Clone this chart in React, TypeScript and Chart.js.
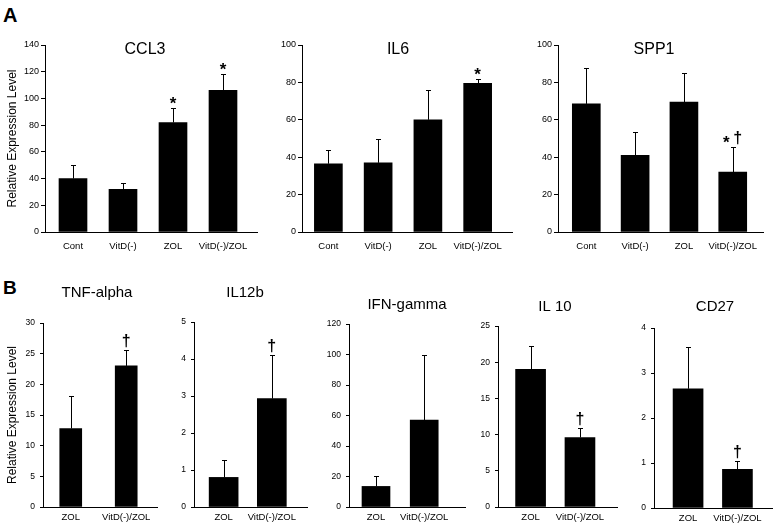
import React, { useEffect, useRef } from 'react';
import { Chart, registerables } from 'chart.js';

Chart.register(...registerables);

const FONT = '"Liberation Sans", Arial, sans-serif';

// ---------- data ----------
const categoriesA = ['Cont', 'VitD(-)', 'ZOL', 'VitD(-)/ZOL'];
const categoriesB = ['ZOL', 'VitD(-)/ZOL'];

const ccl3Means = [40, 32, 82, 106];
const ccl3Errors = [10, 5, 11, 12];
const ccl3Marks = ['', '', '*', '*'];

const il6Means = [36.5, 37, 60, 79.5];
const il6Errors = [7.5, 12.5, 16, 2.5];
const il6Marks = ['', '', '', '*'];

const spp1Means = [68.5, 41, 69.5, 32];
const spp1Errors = [19, 12.5, 15.5, 13.5];
const spp1Marks = ['', '', '', '*†'];

const tnfMeans = [12.8, 23];
const tnfErrors = [5.3, 2.6];
const tnfMarks = ['', '†'];

const il12bMeans = [0.8, 2.93];
const il12bErrors = [0.48, 1.17];
const il12bMarks = ['', '†'];

const ifnMeans = [13.5, 57];
const ifnErrors = [7, 43];
const ifnMarks = ['', ''];

const il10Means = [19, 9.6];
const il10Errors = [3.2, 1.3];
const il10Marks = ['', '†'];

const cd27Means = [2.65, 0.86];
const cd27Errors = [0.93, 0.19];
const cd27Marks = ['', '†'];

const yTitle = 'Relative Expression Level';

type Spec = {
  title: string;
  cats: string[];
  means: number[];
  errs: number[];
  marks: string[];
  yMax: number;
  yStep: number;
  yTitle?: string;
  left: number;
  right: number;
  top: number;
  bottom: number;
  xMin: number;
  xMax: number;
  bar: number;
  titleX: number;
  titleY: number;
  canvasLeft: number;
  padTop: number;
  xh: number;
  yFont: number;
  xFont: number;
  xPad: number;
  tickLen: number;
  yPad: number;
  titleFont: number;
};

const panelA = { top: 45, bottom: 232, padTop: 20, xh: 28, yFont: 9, xFont: 9.5, xPad: 9, tickLen: 4, yPad: 2, titleFont: 16 };
const panelB = { padTop: 45, xh: 18, yFont: 8.5, xFont: 9.5, xPad: 5, tickLen: 3, yPad: 5, titleFont: 15 };

const specs: Spec[] = [
  { ...panelA, title: 'CCL3', cats: categoriesA, means: ccl3Means, errs: ccl3Errors, marks: ccl3Marks, yMax: 140, yStep: 20, yTitle,
    left: 45, right: 257, xMin: -0.56, xMax: 3.68, bar: 28, titleX: 145, titleY: 50, canvasLeft: 0 },
  { ...panelA, title: 'IL6', cats: categoriesA, means: il6Means, errs: il6Errors, marks: il6Marks, yMax: 100, yStep: 20,
    left: 302, right: 512, xMin: -0.53, xMax: 3.69, bar: 28, titleX: 398, titleY: 50, canvasLeft: 272 },
  { ...panelA, title: 'SPP1', cats: categoriesA, means: spp1Means, errs: spp1Errors, marks: spp1Marks, yMax: 100, yStep: 20,
    left: 558, right: 763, xMin: -0.58, xMax: 3.62, bar: 28, titleX: 654, titleY: 50, canvasLeft: 528 },
  { ...panelB, title: 'TNF-alpha', cats: categoriesB, means: tnfMeans, errs: tnfErrors, marks: tnfMarks, yMax: 30, yStep: 5, yTitle,
    left: 43, right: 157, top: 323, bottom: 507, xMin: -0.5, xMax: 1.555, bar: 22, titleX: 97, titleY: 293, canvasLeft: 0 },
  { ...panelB, title: 'IL12b', cats: categoriesB, means: il12bMeans, errs: il12bErrors, marks: il12bMarks, yMax: 5, yStep: 1,
    left: 194, right: 307, top: 322, bottom: 507, xMin: -0.615, xMax: 1.73, bar: 29, titleX: 245, titleY: 293, canvasLeft: 166 },
  { ...panelB, title: 'IFN-gamma', cats: categoriesB, means: ifnMeans, errs: ifnErrors, marks: ifnMarks, yMax: 120, yStep: 20,
    left: 349, right: 465, top: 324, bottom: 507, xMin: -0.56, xMax: 1.846, bar: 28, titleX: 407, titleY: 305, canvasLeft: 318 },
  { ...panelB, title: 'IL 10', cats: categoriesB, means: il10Means, errs: il10Errors, marks: il10Marks, yMax: 25, yStep: 5,
    left: 498, right: 617, top: 326, bottom: 507, xMin: -0.66, xMax: 1.75, bar: 30, titleX: 555, titleY: 307, canvasLeft: 470 },
  { ...panelB, title: 'CD27', cats: categoriesB, means: cd27Means, errs: cd27Errors, marks: cd27Marks, yMax: 4, yStep: 1,
    left: 654, right: 772, top: 328, bottom: 508, xMin: -0.69, xMax: 1.7, bar: 30, titleX: 715, titleY: 307, canvasLeft: 626 },
];

function Panel({ spec }: { spec: Spec }) {
  const ref = useRef<HTMLCanvasElement>(null);
  const canvasLeft = spec.canvasLeft;
  const canvasTop = spec.top - spec.padTop;
  const yw = spec.left - canvasLeft;
  const canvasRight = Math.min(spec.right + 4, 776);
  const canvasW = canvasRight - canvasLeft;
  const canvasH = spec.padTop + (spec.bottom - spec.top) + spec.xh;
  const padRight = canvasW - yw - (spec.right - spec.left);

  useEffect(() => {
    if (!ref.current) return;
    const overlay = {
      id: 'overlay',
      afterDatasetsDraw(chart: any) {
        const ctx = chart.ctx;
        const yScale = chart.scales.y;
        const meta = chart.getDatasetMeta(0);
        ctx.save();
        ctx.strokeStyle = '#000';
        ctx.fillStyle = '#000';
        ctx.lineWidth = 1;
        meta.data.forEach((el: any, i: number) => {
          const x = Math.round(el.x) + 0.5;
          const yBar = el.y;
          const yTop = yScale.getPixelForValue(spec.means[i] + spec.errs[i]);
          ctx.beginPath();
          ctx.moveTo(x, yBar);
          ctx.lineTo(x, Math.round(yTop) + 0.5);
          ctx.moveTo(x - 2.5, Math.round(yTop) + 0.5);
          ctx.lineTo(x + 2.5, Math.round(yTop) + 0.5);
          ctx.stroke();
          const mark = spec.marks[i];
          if (mark) {
            const chars = mark.split('');
            const offsets = chars.length === 1 ? [0] : [-6.5, 5];
            chars.forEach((c, k) => {
              const cx = el.x + offsets[k];
              ctx.textAlign = 'center';
              ctx.textBaseline = 'alphabetic';
              if (c === '*') {
                ctx.font = `bold 17px ${FONT}`;
                ctx.fillText(c, cx, yTop + 1);
              } else {
                ctx.font = `bold 16px ${FONT}`;
                ctx.fillText(c, cx, yTop - 4);
              }
            });
          }
        });
        // panel title
        ctx.font = `${spec.titleFont}px ${FONT}`;
        ctx.textAlign = 'center';
        ctx.textBaseline = 'middle';
        ctx.fillText(spec.title, spec.titleX - canvasLeft, spec.titleY - canvasTop);
        ctx.restore();
      },
    };

    const chart = new Chart(ref.current, {
      type: 'bar',
      data: {
        datasets: [
          {
            data: spec.means.map((y, i) => ({ x: i, y })),
            backgroundColor: '#000',
            borderWidth: 0,
            barThickness: spec.bar,
          } as any,
        ],
      },
      options: {
        animation: false,
        responsive: false,
        maintainAspectRatio: false,
        devicePixelRatio: 1,
        layout: { padding: { top: spec.padTop, right: padRight, left: 0, bottom: 0 } },
        plugins: {
          legend: { display: false },
          tooltip: { enabled: false },
          title: { display: false },
        },
        scales: {
          x: {
            type: 'linear',
            min: spec.xMin,
            max: spec.xMax,
            offset: false,
            bounds: 'data',
            grid: { display: false, drawTicks: false, offset: false },
            border: { display: true, color: '#000', width: 1 },
            afterBuildTicks: (s: any) => {
              s.ticks = spec.cats.map((_, i) => ({ value: i }));
            },
            afterFit: (s: any) => {
              s.height = spec.xh;
            },
            ticks: {
              autoSkip: false,
              maxRotation: 0,
              minRotation: 0,
              color: '#000',
              font: { family: FONT, size: spec.xFont },
              padding: spec.xPad,
              callback: (v: any) => spec.cats[Math.round(Number(v))] ?? '',
            },
          } as any,
          y: {
            min: 0,
            max: spec.yMax,
            ticks: {
              stepSize: spec.yStep,
              color: '#000',
              font: { family: FONT, size: spec.yFont },
              padding: spec.yPad,
            },
            grid: {
              display: true,
              drawOnChartArea: false,
              drawTicks: true,
              tickLength: spec.tickLen,
              color: '#000',
            },
            border: { display: true, color: '#000', width: 1 },
            title: spec.yTitle
              ? {
                  display: true,
                  text: spec.yTitle,
                  color: '#000',
                  font: { family: FONT, size: 12 },
                  padding: { top: 5, bottom: 0 },
                }
              : { display: false },
            afterFit: (s: any) => {
              s.width = yw;
            },
          } as any,
        },
      },
      plugins: [overlay],
    });
    return () => chart.destroy();
  }, []);

  return (
    <canvas
      ref={ref}
      width={canvasW}
      height={canvasH}
      style={{ position: 'absolute', left: canvasLeft, top: canvasTop, width: canvasW, height: canvasH }}
    />
  );
}

export default function App() {
  return (
    <div
      style={{
        position: 'absolute',
        left: 0,
        top: 0,
        width: 776,
        height: 528,
        overflow: 'hidden',
        background: '#fff',
        fontFamily: FONT,
      }}
    >
      <div style={{ position: 'absolute', left: 3, top: 5, fontSize: 20, lineHeight: '20px', fontWeight: 'bold' }}>A</div>
      <div style={{ position: 'absolute', left: 3, top: 278, fontSize: 19, lineHeight: '19px', fontWeight: 'bold' }}>B</div>
      {specs.map((s) => (
        <Panel key={s.title} spec={s} />
      ))}
    </div>
  );
}
